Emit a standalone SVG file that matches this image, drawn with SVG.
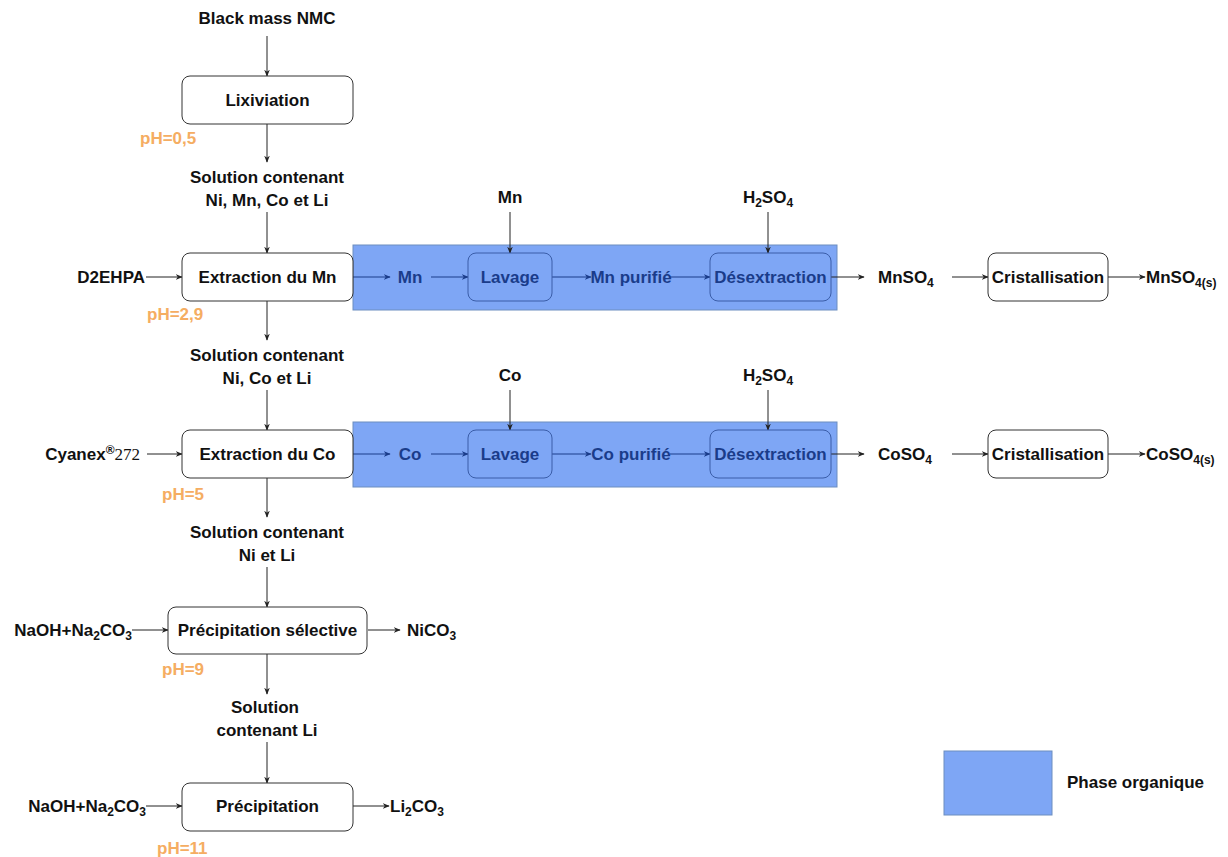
<svg xmlns="http://www.w3.org/2000/svg" width="1228" height="857" viewBox="0 0 1228 857">
<defs>
<marker id="ah" viewBox="0 0 10 10" refX="9" refY="5" markerWidth="7" markerHeight="7" markerUnits="userSpaceOnUse" orient="auto"><path d="M0,1 L10,5 L0,9 L3,5 Z" fill="#222"/></marker>
<marker id="ahb" viewBox="0 0 10 10" refX="9" refY="5" markerWidth="7" markerHeight="7" markerUnits="userSpaceOnUse" orient="auto"><path d="M0,1 L10,5 L0,9 L3,5 Z" fill="#1A3C8A"/></marker>
<style>
text{font-family:"Liberation Sans",Arial,sans-serif;font-weight:bold;font-size:17px;fill:#111}
.c{text-anchor:middle}
.e{text-anchor:end}
.ph{fill:#F5AD62}
.bl{fill:#1A3C8A}
.box{fill:#fff;stroke:#333;stroke-width:1}
.bbox{fill:#7EA6F5;stroke:#3A5DA8;stroke-width:1}
.org{fill:#7EA6F5;stroke:#6C8EBF;stroke-width:1}
.ln{stroke:#222;stroke-width:1;fill:none;marker-end:url(#ah)}
.lb{stroke:#1A3C8A;stroke-width:1;fill:none;marker-end:url(#ahb)}
.sub{font-size:12px}
</style>
</defs>
<rect width="1228" height="857" fill="#fff"/>
<g id="organic-mn"><rect class="org" x="353" y="245" width="484" height="65"/></g>
<g id="organic-co"><rect class="org" x="353" y="422" width="484" height="65"/></g>

<g id="connectors">
<line class="ln" x1="267" y1="36" x2="267" y2="76"/>
<line class="ln" x1="267" y1="124" x2="267" y2="162"/>
<line class="ln" x1="267" y1="212" x2="267" y2="253"/>
<line class="ln" x1="146" y1="277" x2="182" y2="277"/>
<line class="lb" x1="353" y1="277" x2="390" y2="277"/>
<line class="lb" x1="431" y1="277" x2="468" y2="277"/>
<line class="lb" x1="552" y1="277" x2="591" y2="277"/>
<line class="lb" x1="670" y1="277" x2="710" y2="277"/>
<line class="ln" x1="510" y1="212" x2="510" y2="253"/>
<line class="ln" x1="768" y1="212" x2="768" y2="253"/>
<line class="ln" x1="831" y1="277" x2="864" y2="277"/>
<line class="ln" x1="952" y1="277" x2="988" y2="277"/>
<line class="ln" x1="1108" y1="277" x2="1145" y2="277"/>
<line class="ln" x1="267" y1="301" x2="267" y2="340"/>
<line class="ln" x1="267" y1="390" x2="267" y2="430"/>
<line class="ln" x1="147" y1="454" x2="182" y2="454"/>
<line class="lb" x1="353" y1="454" x2="390" y2="454"/>
<line class="lb" x1="431" y1="454" x2="468" y2="454"/>
<line class="lb" x1="552" y1="454" x2="591" y2="454"/>
<line class="lb" x1="670" y1="454" x2="710" y2="454"/>
<line class="ln" x1="510" y1="390" x2="510" y2="430"/>
<line class="ln" x1="768" y1="390" x2="768" y2="430"/>
<line class="ln" x1="831" y1="454" x2="864" y2="454"/>
<line class="ln" x1="952" y1="454" x2="988" y2="454"/>
<line class="ln" x1="1108" y1="454" x2="1145" y2="454"/>
<line class="ln" x1="267" y1="478" x2="267" y2="517"/>
<line class="ln" x1="267" y1="567" x2="267" y2="607"/>
<line class="ln" x1="132" y1="630" x2="168" y2="630"/>
<line class="ln" x1="368" y1="630" x2="400" y2="630"/>
<line class="ln" x1="267" y1="654" x2="267" y2="694"/>
<line class="ln" x1="267" y1="742" x2="267" y2="783"/>
<line class="ln" x1="146" y1="806" x2="182" y2="806"/>
<line class="ln" x1="353" y1="806" x2="389" y2="806"/>
</g>

<g id="input"><text class="c" x="267" y="24">Black mass NMC</text></g>
<g id="lixiviation"><rect class="box" x="182" y="76" width="171" height="48" rx="8"/><text class="c" x="267.5" y="106">Lixiviation</text></g>
<g id="ph05"><text class="ph" x="140" y="144">pH=0,5</text></g>
<g id="sol1"><text class="c" x="267" y="183">Solution contenant</text><text class="c" x="267" y="206">Ni, Mn, Co et Li</text></g>
<g id="d2ehpa"><text class="e" x="145" y="283">D2EHPA</text></g>
<g id="extraction-mn"><rect class="box" x="182" y="253" width="171" height="48" rx="8"/><text class="c" x="267.5" y="283">Extraction du Mn</text></g>
<g id="ph29"><text class="ph" x="147" y="320">pH=2,9</text></g>
<g id="mn-org"><text class="c bl" x="410" y="283">Mn</text></g>
<g id="mn-in"><text class="c" x="510" y="203">Mn</text></g>
<g id="lavage-mn"><rect class="bbox" x="468" y="253" width="84" height="48" rx="8"/><text class="c bl" x="510" y="283">Lavage</text></g>
<g id="mn-purifie"><text class="c bl" x="631" y="283">Mn purifié</text></g>
<g id="h2so4-1"><text class="c" x="768" y="203">H<tspan class="sub" dy="4">2</tspan><tspan dy="-4">SO</tspan><tspan class="sub" dy="4">4</tspan></text></g>
<g id="desextraction-mn"><rect class="bbox" x="710" y="253" width="121" height="48" rx="8"/><text class="c bl" x="770.5" y="283">Désextraction</text></g>
<g id="mnso4"><text x="878" y="283">MnSO<tspan class="sub" dy="4">4</tspan></text></g>
<g id="crist-mn"><rect class="box" x="988" y="253" width="120" height="48" rx="8"/><text class="c" x="1048" y="283">Cristallisation</text></g>
<g id="mnso4s"><text x="1146" y="283">MnSO<tspan class="sub" dy="4">4(s)</tspan></text></g>

<g id="sol2"><text class="c" x="267" y="361">Solution contenant</text><text class="c" x="267" y="384">Ni, Co et Li</text></g>
<g id="cyanex"><text class="e" x="140" y="460">Cyanex<tspan class="sub" dy="-6">®</tspan><tspan dy="6" style="font-family:'Liberation Serif',serif;font-weight:normal;font-size:17px">272</tspan></text></g>
<g id="extraction-co"><rect class="box" x="182" y="430" width="171" height="48" rx="8"/><text class="c" x="267.5" y="460">Extraction du Co</text></g>
<g id="ph5"><text class="ph" x="162" y="500">pH=5</text></g>
<g id="co-org"><text class="c bl" x="410" y="460">Co</text></g>
<g id="co-in"><text class="c" x="510" y="381">Co</text></g>
<g id="lavage-co"><rect class="bbox" x="468" y="430" width="84" height="48" rx="8"/><text class="c bl" x="510" y="460">Lavage</text></g>
<g id="co-purifie"><text class="c bl" x="631" y="460">Co purifié</text></g>
<g id="h2so4-2"><text class="c" x="768" y="381">H<tspan class="sub" dy="4">2</tspan><tspan dy="-4">SO</tspan><tspan class="sub" dy="4">4</tspan></text></g>
<g id="desextraction-co"><rect class="bbox" x="710" y="430" width="121" height="48" rx="8"/><text class="c bl" x="770.5" y="460">Désextraction</text></g>
<g id="coso4"><text x="878" y="460">CoSO<tspan class="sub" dy="4">4</tspan></text></g>
<g id="crist-co"><rect class="box" x="988" y="430" width="120" height="48" rx="8"/><text class="c" x="1048" y="460">Cristallisation</text></g>
<g id="coso4s"><text x="1146" y="460">CoSO<tspan class="sub" dy="4">4(s)</tspan></text></g>

<g id="sol3"><text class="c" x="267" y="538">Solution contenant</text><text class="c" x="267" y="561">Ni et Li</text></g>
<g id="naoh1"><text class="e" x="132" y="636">NaOH+Na<tspan class="sub" dy="4">2</tspan><tspan dy="-4">CO</tspan><tspan class="sub" dy="4">3</tspan></text></g>
<g id="prec-sel"><rect class="box" x="168" y="607" width="199" height="47" rx="8"/><text class="c" x="267.5" y="636">Précipitation sélective</text></g>
<g id="nico3"><text x="407" y="636">NiCO<tspan class="sub" dy="4">3</tspan></text></g>
<g id="ph9"><text class="ph" x="162" y="675">pH=9</text></g>
<g id="sol4"><text class="c" x="265" y="713">Solution</text><text class="c" x="267" y="736">contenant Li</text></g>
<g id="naoh2"><text class="e" x="146" y="812">NaOH+Na<tspan class="sub" dy="4">2</tspan><tspan dy="-4">CO</tspan><tspan class="sub" dy="4">3</tspan></text></g>
<g id="precipitation"><rect class="box" x="182" y="783" width="171" height="48" rx="8"/><text class="c" x="267.5" y="812">Précipitation</text></g>
<g id="li2co3"><text x="390" y="812">Li<tspan class="sub" dy="4">2</tspan><tspan dy="-4">CO</tspan><tspan class="sub" dy="4">3</tspan></text></g>
<g id="ph11"><text class="ph" x="157" y="854">pH=11</text></g>

<g id="legend"><rect class="org" x="944" y="751" width="108" height="64"/><text x="1067" y="788">Phase organique</text></g>
</svg>
